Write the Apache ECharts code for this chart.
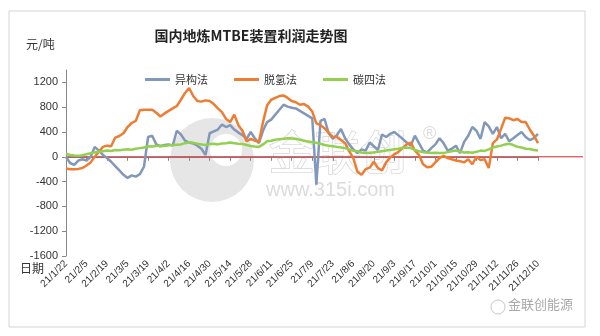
<!DOCTYPE html>
<html>
<head>
<meta charset="utf-8">
<script src="https://cdn.jsdelivr.net/npm/echarts@6/dist/echarts.min.js"></script>
<style>
  html, body { margin: 0; padding: 0; background: #fff; }
  #main { width: 600px; height: 336px; }
</style>
</head>
<body>
<div id="main"></div>
<script>
// 日期（约每两个工作日一个点）
var dates = [
  '21/1/22','21/1/26','21/1/28','21/2/1','21/2/3',
  '21/2/5','21/2/9','21/2/11','21/2/15','21/2/17',
  '21/2/19','21/2/23','21/2/25','21/3/1','21/3/3',
  '21/3/5','21/3/9','21/3/11','21/3/15','21/3/17',
  '21/3/19','21/3/23','21/3/25','21/3/29','21/3/31',
  '21/4/2','21/4/6','21/4/8','21/4/12','21/4/14',
  '21/4/16','21/4/20','21/4/22','21/4/26','21/4/28',
  '21/4/30','21/5/4','21/5/6','21/5/10','21/5/12',
  '21/5/14','21/5/18','21/5/20','21/5/24','21/5/26',
  '21/5/28','21/6/1','21/6/3','21/6/7','21/6/9',
  '21/6/11','21/6/15','21/6/17','21/6/21','21/6/23',
  '21/6/25','21/6/29','21/7/1','21/7/5','21/7/7',
  '21/7/9','21/7/13','21/7/15','21/7/19','21/7/21',
  '21/7/23','21/7/27','21/7/29','21/8/2','21/8/4',
  '21/8/6','21/8/10','21/8/12','21/8/16','21/8/18',
  '21/8/20','21/8/24','21/8/26','21/8/30','21/9/1',
  '21/9/3','21/9/7','21/9/9','21/9/13','21/9/15',
  '21/9/17','21/9/21','21/9/23','21/9/27','21/9/29',
  '21/10/1','21/10/5','21/10/7','21/10/11','21/10/13',
  '21/10/15','21/10/19','21/10/21','21/10/25','21/10/27',
  '21/10/29','21/11/2','21/11/4','21/11/8','21/11/10',
  '21/11/12','21/11/16','21/11/18','21/11/22','21/11/24',
  '21/11/26','21/11/30','21/12/2','21/12/6','21/12/8',
  '21/12/10'
];

// 异构法
var yigou = [
  0, -100, -130, -60, -40, -60, 0, 160, 100, 30,
  -20, -80, -150, -220, -290, -340, -300, -320, -280, -160,
  320, 340, 200, 170, 190, 200, 180, 420, 360, 260,
  230, 215, 180, 130, 30, 380, 410, 440, 520, 480,
  510, 440, 390, 350, 290, 400, 300, 220, 420, 560,
  600, 680, 760, 840, 810, 790, 780, 740, 700, 660,
  620, -450, 580, 610, 380, 290, 350, 450, 300, 200,
  120, 60, 120, 100, 230, 170, 110, 360, 320, 370,
  400, 345, 290, 230, 180, 340, 220, 100, 70, 140,
  200, 300, 220, 100, 130, 180, 60, 240, 340, 480,
  420, 290, 560, 490, 370, 480, 300, 370, 250, 300,
  350, 400, 320, 270, 300, 370
];

// 脱氢法
var tuoqing = [
  -190, -200, -200, -195, -180, -140, -90, 0, 80, 160,
  180, 170, 310, 335, 380, 480, 545, 580, 750, 760,
  760, 760, 710, 650, 700, 740, 780, 820, 920, 1030,
  1110, 980, 900, 890, 910, 900, 850, 780, 720, 610,
  560, 680, 510, 420, 250, 290, 260, 240, 560, 830,
  920, 950, 980, 990, 950, 900, 880, 840, 850, 810,
  730, 540, 510, 460, 390, 320, 320, 270, 220, 90,
  -20, -240, -290, -200, -175, -80, -180, -220, -90, -10,
  40, 80, 140, 200, 230, 100, 30, -120, -170, -160,
  -90, -20, 15, -20, -40, -60, -70, -90, -40, -120,
  0, -50, -40, -180, 220, 280, 450, 630, 620, 590,
  610, 560, 560, 440, 340, 220
];

// 碳四法
var tansi = [
  50, 30, 20, 15, 25, 40, 60, 70, 80, 90,
  100, 95, 110, 105, 115, 120, 115, 130, 140, 150,
  170, 165, 175, 180, 175, 185, 190, 195, 200, 220,
  235, 225, 210, 200, 190, 205, 210, 200, 215, 220,
  230, 220, 210, 205, 190, 175, 165, 160, 200, 250,
  260, 275, 285, 290, 300, 295, 290, 275, 260, 245,
  235, 225, 210, 190, 180, 170, 160, 150, 140, 120,
  100, 90, 70, 60, 65, 70, 80, 90, 100, 110,
  120, 130, 145, 150, 140, 110, 90, 75, 70, 60,
  65, 60, 60, 75, 90, 100, 85, 70, 75, 65,
  80, 100, 95, 120, 150, 165, 180, 200, 210, 190,
  160, 150, 130, 125, 110, 100
];

var zeroLine = [[0, 0], [1, 0]];

var myChart = echarts.init(document.getElementById('main'));
var axisFont = 'Liberation Sans, Arial, Noto Sans CJK SC';
var cjkFont = 'Noto Sans CJK SC';

var option = {
  backgroundColor: '#fff',
  animation: false,
  title: {
    text: '国内地炼MTBE装置利润走势图',
    left: 246,
    textAlign: 'center',
    top: 24,
    textStyle: { fontFamily: cjkFont, fontSize: 14, fontWeight: 'bold', color: '#222' }
  },
  legend: {
    top: 69,
    left: 140,
    itemGap: 26,
    itemWidth: 25,
    itemHeight: 3,
    icon: 'rect',
    textStyle: { fontFamily: cjkFont, fontSize: 11, color: '#333' },
    data: ['异构法', '脱氢法', '碳四法']
  },
  graphic: [
    // 外框
    { type: 'rect', shape: { x: 9, y: 11, width: 576, height: 316 }, z: -10,
      style: { fill: 'none', stroke: '#d4d4d4', lineWidth: 1 } },
    // 水印
    { type: 'circle', shape: { cx: 212, cy: 160, r: 42 }, z: -5,
      style: { fill: '#e6e6e6' } },
    { type: 'circle', shape: { cx: 226, cy: 150, r: 16 }, z: -4,
      style: { fill: '#fff' } },
    { type: 'text', left: 268, top: 128, z: -5,
      style: { text: '金联创', font: '46px Noto Sans CJK SC', fill: '#fff', stroke: '#d6d6d6', lineWidth: 1.5 } },
    { type: 'text', left: 423, top: 125, z: -5,
      style: { text: '®', font: '18px Liberation Sans', fill: '#dcdcdc' } },
    { type: 'text', left: 266, top: 180, z: -5,
      style: { text: 'www.315i.com', font: '20px Liberation Sans', fill: '#dcdcdc' } },
    { type: 'text', left: 26, top: 38,
      style: { text: '元/吨', font: '12px Noto Sans CJK SC', fill: '#333' } },
    { type: 'text', left: 20, top: 262,
      style: { text: '日期', font: '12px Noto Sans CJK SC', fill: '#333' } },
    { type: 'text', left: 508, top: 298,
      style: { text: '金联创能源', font: '13px Noto Sans CJK SC', fill: '#a8a8a8' } },
    { type: 'circle', shape: { cx: 498, cy: 307, r: 7 },
      style: { fill: 'none', stroke: '#c8c8c8', lineWidth: 1 } }
  ],
  grid: [
    { left: 66, right: 62, top: 70, bottom: 80 },
    { left: 66, right: 17, top: 70, bottom: 80 }
  ],
  xAxis: [
    {
      type: 'category',
      gridIndex: 0,
      data: dates,
      boundaryGap: false,
      axisLine: { lineStyle: { color: '#888' } },
      axisTick: { interval: 4, length: 4, lineStyle: { color: '#888' } },
      axisLabel: {
        interval: 4,
        rotate: 45,
        fontSize: 10,
        fontFamily: axisFont,
        color: '#333',
        margin: 6
      }
    },
    { type: 'value', gridIndex: 1, min: 0, max: 1, show: false }
  ],
  yAxis: [
    {
      type: 'value',
      gridIndex: 0,
      min: -1600,
      max: 1400,
      interval: 400,
      axisLine: { show: true, lineStyle: { color: '#888' } },
      axisTick: { show: true, length: 4, lineStyle: { color: '#888' } },
      splitLine: { show: false },
      axisLabel: {
        showMaxLabel: false, fontSize: 11, fontFamily: axisFont, color: '#333', margin: 8,
        formatter: function (v) { return String(v); }
      }
    },
    { type: 'value', gridIndex: 1, min: -1600, max: 1400, show: false }
  ],
  series: [
    {
      name: '零线', type: 'line', xAxisIndex: 1, yAxisIndex: 1,
      data: zeroLine, symbol: 'none', silent: true, z: 1,
      lineStyle: { color: '#d9252b', width: 1 }
    },
    {
      name: '异构法', type: 'line', data: yigou, symbol: 'none', z: 3,
      itemStyle: { color: '#8298ba' },
      lineStyle: { color: '#8298ba', width: 2.5 }
    },
    {
      name: '脱氢法', type: 'line', data: tuoqing, symbol: 'none', z: 4,
      itemStyle: { color: '#ee7d34' },
      lineStyle: { color: '#ee7d34', width: 2.5 }
    },
    {
      name: '碳四法', type: 'line', data: tansi, symbol: 'none', z: 5,
      itemStyle: { color: '#92d050' },
      lineStyle: { color: '#92d050', width: 2.5 }
    }
  ]
};

myChart.setOption(option);
</script>
</body>
</html>
